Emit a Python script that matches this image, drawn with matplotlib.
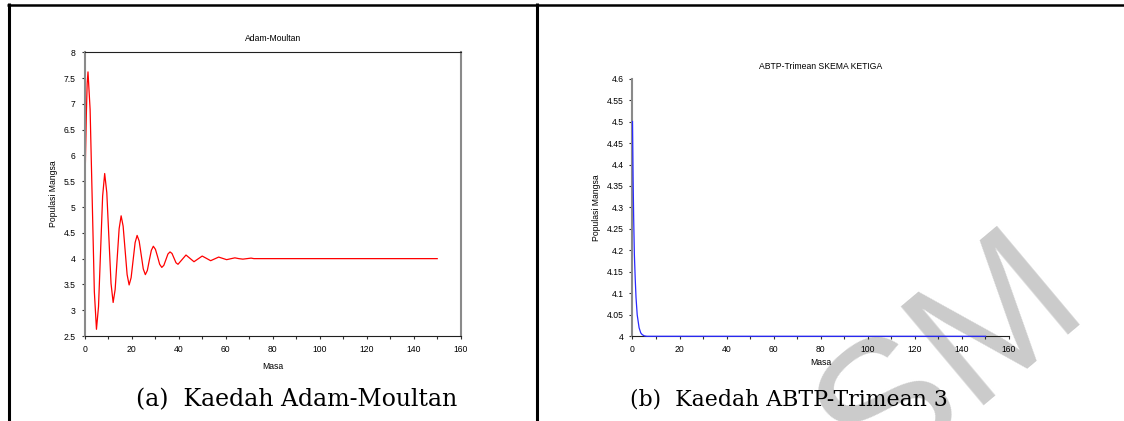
"""
Plot perbandingan populasi mangsa: kaedah Adam-Moultan dan ABTP-Trimean 3.
"""

import matplotlib
matplotlib.use('Agg')
import matplotlib.pyplot as plt
from matplotlib.lines import Line2D
from matplotlib.ticker import MultipleLocator, FuncFormatter

# Data (dibaca dari gambar asal)
MASA_AM = [0, 0.35, 0.7, 1.05, 1.4,
           2.3, 3.2, 4.1, 5.0,
           5.875, 6.75, 7.625, 8.5,
           9.4, 10.3, 11.2, 12.1,
           12.95, 13.8, 14.65, 15.5,
           16.35, 17.2, 18.05, 18.9,
           19.75, 20.6, 21.45, 22.3,
           23.175, 24.05, 24.925, 25.8,
           26.65, 27.5, 28.35, 29.2,
           30.1, 31.0, 31.9, 32.8,
           33.675, 34.55, 35.425, 36.3,
           37.15, 38.0, 38.85, 39.7,
           41.4, 43.1, 44.8, 46.5, 48.25, 50.0, 51.8, 53.6, 55.3, 57.0,
           58.7, 60.4, 62.15, 63.9, 65.6, 67.3, 69.05, 70.8, 72.0, 150.0]
POPULASI_AM = [5.1, 6.0, 6.8, 7.4, 7.62,
               6.89, 5.13, 3.36, 2.63,
               3.07, 4.14, 5.21, 5.65,
               5.28, 4.40, 3.52, 3.15,
               3.40, 3.99, 4.58, 4.83,
               4.63, 4.16, 3.69, 3.49,
               3.63, 3.97, 4.31, 4.45,
               4.34, 4.07, 3.80, 3.69,
               3.77, 3.97, 4.16, 4.24,
               4.18, 4.04, 3.89, 3.83,
               3.87, 3.98, 4.09, 4.13,
               4.10, 4.01, 3.92, 3.89,
               3.98, 4.07, 4.005, 3.94, 3.995, 4.05, 4.005, 3.96, 3.995, 4.03,
               4.005, 3.98, 3.998, 4.015, 4.0, 3.99, 4.0, 4.01, 4.0, 4.0]

MASA_TRIMEAN = [0, 0.25, 0.5, 0.8, 1.15, 1.5, 2.0, 2.8, 3.5, 4.1, 5.0, 6.1, 150.0]
POPULASI_TRIMEAN = [4.5, 4.37, 4.275, 4.19, 4.135, 4.09, 4.05, 4.02, 4.008,
                    4.004, 4.001, 4.0, 4.0]

TAJUK = ['Adam-Moultan', 'ABTP-Trimean SKEMA KETIGA']
KAPSYEN = ['(a)  Kaedah Adam-Moultan', '(b)  Kaedah ABTP-Trimean 3']

FON_SCILAB = 'Liberation Sans'
FON_KAPSYEN = 'DejaVu Serif'


def gaya_scilab(ax, kotak):
    """Gaya paksi ala Scilab: paksi kiri kelabu, bawah hitam."""
    ax.set_facecolor('none')
    ax.spines['left'].set_color('#8a8a8a')
    ax.spines['left'].set_linewidth(1.5)
    ax.spines['bottom'].set_color('#202020')
    ax.spines['bottom'].set_linewidth(0.8)
    if kotak:
        ax.spines['top'].set_color('#202020')
        ax.spines['top'].set_linewidth(0.8)
        ax.spines['right'].set_color('#8a8a8a')
        ax.spines['right'].set_linewidth(1.5)
    else:
        ax.spines['top'].set_visible(False)
        ax.spines['right'].set_visible(False)
    ax.xaxis.set_major_locator(MultipleLocator(20))
    ax.xaxis.set_minor_locator(MultipleLocator(10))
    ax.tick_params(which='both', direction='out', length=2.5, width=0.8,
                   color='#303030', labelsize=6.2, pad=4)
    ax.yaxis.set_major_formatter(FuncFormatter(lambda v, p: '%g' % round(v, 3)))
    for lbl in ax.get_xticklabels() + ax.get_yticklabels():
        lbl.set_fontfamily(FON_SCILAB)


fig = plt.figure(figsize=(11.24, 4.21), dpi=100)

# Tera air di belakang semua elemen lain
fig.text(0.847, 0.14, 'SM', rotation=40, color='#cbcbcb', fontsize=135,
         family=FON_SCILAB, ha='center', va='center', zorder=-5)

# Graf (a)
ax1 = fig.add_axes([0.07536, 0.20190, 0.33452, 0.67387])
ax1.plot(MASA_AM, POPULASI_AM, color='#ff0000', lw=0.9)
ax1.set_xlim(0, 160)
ax1.set_ylim(2.5, 8)
ax1.yaxis.set_major_locator(MultipleLocator(0.5))
gaya_scilab(ax1, kotak=True)

# Graf (b)
ax2 = fig.add_axes([0.56272, 0.20119, 0.33497, 0.61211])
ax2.plot(MASA_TRIMEAN, POPULASI_TRIMEAN, color='#2a2aff', lw=0.9,
         clip_on=False, zorder=5)
ax2.set_xlim(0, 160)
ax2.set_ylim(4, 4.6)
ax2.yaxis.set_major_locator(MultipleLocator(0.05))
gaya_scilab(ax2, kotak=False)

# Tajuk dan label paksi
for ax, tajuk, y_tajuk, y_masa, x_label in [(ax1, TAJUK[0], 0.9097, 0.1306, 0.0472),
                                            (ax2, TAJUK[1], 0.8432, 0.1378, 0.5311)]:
    pos = ax.get_position()
    cx = (pos.x0 + pos.x1) / 2
    cy = (pos.y0 + pos.y1) / 2
    fig.text(cx, y_tajuk, tajuk, ha='center', va='center', fontsize=6.2,
             family=FON_SCILAB)
    fig.text(cx, y_masa, 'Masa', ha='center', va='center', fontsize=6.2,
             family=FON_SCILAB)
    fig.text(x_label, cy, 'Populasi Mangsa', ha='center', va='center',
             rotation=90, fontsize=6.2, family=FON_SCILAB)

# Kapsyen
fig.text(0.2638, 0.0499, KAPSYEN[0], ha='center', va='center', fontsize=17,
         family=FON_KAPSYEN)
fig.text(0.7019, 0.0499, KAPSYEN[1], ha='center', va='center', fontsize=15.8,
         family=FON_KAPSYEN)

# Garisan jadual
garis = dict(transform=fig.transFigure, color='black', solid_capstyle='butt')
fig.add_artist(Line2D([0.0062, 1.0], [0.9893, 0.9893], lw=1.8, **garis))
fig.add_artist(Line2D([0.0077, 0.0077], [0.992, 0.0], lw=2.2, **garis))
fig.add_artist(Line2D([0.4782, 0.4782], [0.992, 0.0], lw=2.2, **garis))

fig.savefig('out.png', dpi=100)
